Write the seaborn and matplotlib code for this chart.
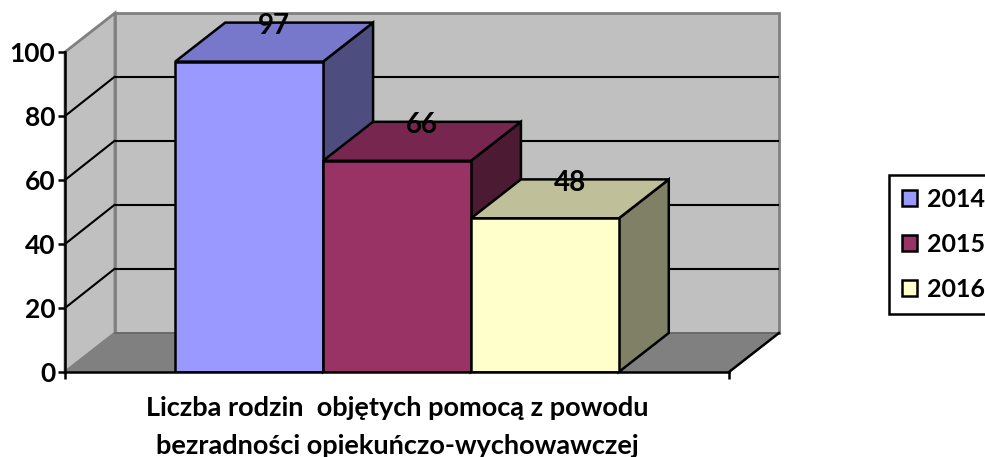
import matplotlib
matplotlib.use("Agg")
import matplotlib.pyplot as plt
from matplotlib.patches import Polygon, Patch
import pandas as pd
import seaborn as sns

category = ["Liczba rodzin  objętych pomocą z powodu\nbezradności opiekuńczo-wychowawczej"]
years = ["2014", "2015", "2016"]
values = [97, 66, 48]
y_ticks = [0, 20, 40, 60, 80, 100]
front = ["#9999FF", "#993366", "#FFFFCC"]
top = ["#7777CC", "#772650", "#BFBF99"]
side = ["#4D4D80", "#4D1A33", "#808066"]

W, H = 985, 457
plt.rcParams["font.family"] = ["Lato", "DejaVu Sans"]
plt.rcParams["font.weight"] = "bold"
fig = plt.figure(figsize=(W / 100, H / 100), dpi=100)
ax = fig.add_axes([65 / W, 1 - 372 / H, 664 / W, 320 / H])

df = pd.DataFrame({"cat": category * 3, "year": years, "v": values})
sns.barplot(data=df, x="cat", y="v", hue="year", palette=front, width=0.668,
            edgecolor="black", linewidth=1.8, saturation=1, legend=False, ax=ax, zorder=5)
ax.set_xlim(-0.5, 0.5)
ax.set_ylim(0, 100)

dx = 50 / 664
dy = 39 / 3.2
lw = 1.8
ec = "black"
wall_edge = "#808080"

def poly(pts, fc, z):
    ax.add_patch(Polygon(pts, closed=True, facecolor=fc, edgecolor=ec, linewidth=lw,
                         clip_on=False, zorder=z, joinstyle="miter"))

# walls and floor
for pts in ([(-.5, 0), (-.5 + dx, dy), (-.5 + dx, 100 + dy), (-.5, 100)],
            [(-.5 + dx, dy), (.5 + dx, dy), (.5 + dx, 100 + dy), (-.5 + dx, 100 + dy)]):
    ax.add_patch(Polygon(pts, closed=True, facecolor="#C0C0C0", edgecolor=wall_edge,
                         linewidth=2, clip_on=False, zorder=1))
ax.add_patch(Polygon([(-.5, 0), (-.5 + dx, dy), (.5 + dx, dy), (.5, 0)], closed=True, facecolor="#808080",
                     edgecolor="none", clip_on=False, zorder=1.5))
ax.plot([-.5 + dx, .5 + dx], [dy, dy], color="#666666", lw=1.2, clip_on=False, zorder=1.6)
ax.plot([.5, .5 + dx], [0, dy], color="black", lw=lw, clip_on=False, zorder=2)
for t in y_ticks[1:-1]:
    ax.plot([-.5, -.5 + dx - 0.001], [t, t + dy], color="black", lw=1.5, clip_on=False, zorder=2)
    ax.plot([-.5 + dx + 0.002, .5 + dx - 0.002], [t + dy, t + dy], color="black", lw=1.5, clip_on=False, zorder=2)

# 3D bar sides and tops
for bar, tc, sc, lab in zip(ax.patches[:3], top, side, values):
    x0, w, h = bar.get_x(), bar.get_width(), bar.get_height()
    x1 = x0 + w
    poly([(x1, 0), (x1 + dx, dy), (x1 + dx, h + dy), (x1, h)], sc, 3 + x0)
    poly([(x0, h), (x0 + dx, h + dy), (x1 + dx, h + dy), (x1, h)], tc, 3 + x0)
    bar.set_zorder(3.2 + x0)
    ax.text(x0 + w / 2 + dx / 2, h + dy - 1.1, str(lab), ha="center", va="center",
            fontsize=20, fontweight="bold", color="black", zorder=6, clip_on=False)

for s in ["top", "right"]:
    ax.spines[s].set_visible(False)
for s in ["left", "bottom"]:
    ax.spines[s].set_linewidth(1.8)
    ax.spines[s].set_zorder(8)
ax.set_yticks(y_ticks)
ax.set_xlabel("")
ax.set_ylabel("")
ax.tick_params(axis="y", length=5, width=1.8, labelsize=19, pad=2)
ax.set_xticks([-0.5, 0.5])
ax.set_xticklabels(["", ""])
ax.tick_params(axis="x", length=5, width=1.8)
fig.text(397 / W, 1 - 427 / H, category[0], ha="center", va="center", fontsize=19.5,
         fontweight="bold", linespacing=1.65)

handles = [Patch(facecolor=c, edgecolor="black", linewidth=1.8, label=y) for c, y in zip(front, years)]
leg = fig.legend(handles=handles, loc="upper left", bbox_to_anchor=(889 / W, 1 - 175 / H), fontsize=18,
                 frameon=True, fancybox=False, edgecolor="black", framealpha=1, handlelength=0.6,
                 handleheight=0.6, handletextpad=0.4, labelspacing=0.88, borderpad=0.52, borderaxespad=0)
leg.get_frame().set_linewidth(1.8)

fig.savefig("out.png", dpi=100)
